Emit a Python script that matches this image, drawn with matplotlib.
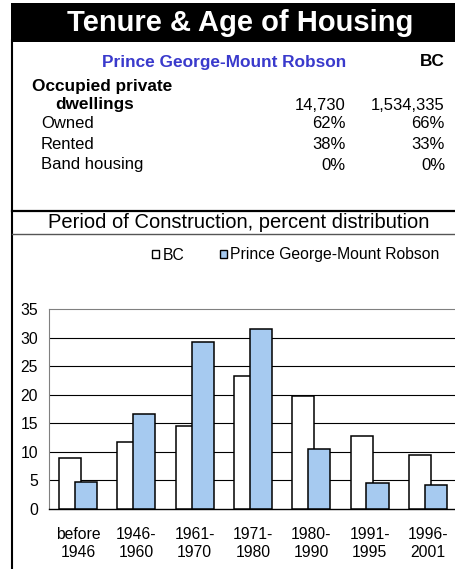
import matplotlib
matplotlib.use("Agg")
import matplotlib.pyplot as plt
from matplotlib.patches import Rectangle, Patch
from matplotlib.lines import Line2D
import numpy as np

plt.rcParams['font.family'] = ['Liberation Sans', 'DejaVu Sans']

# data
periods = ["before\n1946", "1946-\n1960", "1961-\n1970", "1971-\n1980",
           "1980-\n1990", "1991-\n1995", "1996-\n2001"]
bc_pct = [8.9, 11.7, 14.6, 23.3, 19.8, 12.8, 9.4]
pg_pct = [4.7, 16.6, 29.3, 31.5, 10.5, 4.5, 4.2]
region = "Prince George-Mount Robson"
row_labels = ["Owned", "Rented", "Band housing"]
region_vals = ["62%", "38%", "0%"]
bc_vals = ["66%", "33%", "0%"]
region_dwellings = "14,730"
bc_dwellings = "1,534,335"

W, H = 455, 569
fig = plt.figure(figsize=(W / 100, H / 100), dpi=100)


def fx(x):
    return x / W


def fy(y):
    return 1 - y / H


# title bar and frame lines
fig.add_artist(Rectangle((fx(11), fy(42)), fx(455) - fx(11), fy(3) - fy(42),
                         transform=fig.transFigure, color='black', lw=0))
fig.add_artist(Line2D([fx(12), fx(12)], [fy(40), fy(569)], color='black', lw=1.5))
fig.add_artist(Line2D([fx(12), fx(455)], [fy(211), fy(211)], color='black', lw=1.6))
fig.add_artist(Line2D([fx(12), fx(455)], [fy(234), fy(234)], color='#555555', lw=1.0))

fig.text(fx(240), fy(23), "Tenure & Age of Housing", color='white',
         fontsize=21, fontweight='bold', ha='center', va='center')

# tenure table
fs = 12
fsb = 12.4
fig.text(fx(346), fy(62), region, color='#3a3acc', fontsize=fsb,
         fontweight='bold', ha='right', va='center')
fig.text(fx(445), fy(62), "BC", color='black', fontsize=fsb,
         fontweight='bold', ha='right', va='center')
fig.text(fx(32), fy(86), "Occupied private", fontsize=fsb, fontweight='bold',
         ha='left', va='center')
fig.text(fx(55), fy(105), "dwellings", fontsize=fsb, fontweight='bold',
         ha='left', va='center')
fig.text(fx(346), fy(105), region_dwellings, fontsize=fs, ha='right', va='center')
fig.text(fx(445), fy(105), bc_dwellings, fontsize=fs, ha='right', va='center')
for i, lab in enumerate(row_labels):
    y = 124 + i * 20.5
    fig.text(fx(41), fy(y), lab, fontsize=fs, ha='left', va='center')
    fig.text(fx(346), fy(y), region_vals[i], fontsize=fs, ha='right', va='center')
    fig.text(fx(445), fy(y), bc_vals[i], fontsize=fs, ha='right', va='center')

fig.text(fx(239), fy(223), "Period of Construction, percent distribution",
         fontsize=14.5, ha='center', va='center')

# bar chart
ax = fig.add_axes([fx(49), fy(509), (457 - 49) / W, (509 - 309) / H])
x = np.arange(len(periods))
w = 0.38
ax.bar(x - 0.135, bc_pct, w, color='white', edgecolor='black', lw=1.1, zorder=3)
ax.bar(x + 0.135, pg_pct, w, color='#a6caf0', edgecolor='black', lw=1.1, zorder=4)
ax.set_xlim(-0.5, len(periods) - 0.5)
ax.set_ylim(0, 35)
ax.set_yticks(range(0, 36, 5))
ax.set_xticks(x)
ax.set_xticklabels(periods, fontsize=11.3, linespacing=1.25)
ax.tick_params(axis='both', length=0)
ax.tick_params(axis='y', pad=8, labelsize=11.3)
ax.tick_params(axis='x', pad=13)
for yv in range(5, 35, 5):
    ax.axhline(yv, color='black', lw=0.8, zorder=1)
for s in ['top', 'left', 'right']:
    ax.spines[s].set_color('#808080')
    ax.spines[s].set_linewidth(0.8)
ax.spines['right'].set_visible(False)
ax.spines['bottom'].set_color('black')
ax.spines['bottom'].set_linewidth(1.0)

handles = [Patch(facecolor='white', edgecolor='black', lw=1.0),
           Patch(facecolor='#a6caf0', edgecolor='black', lw=1.0)]
fig.legend(handles, ["BC", region], loc='center', ncol=2, frameon=False,
           bbox_to_anchor=(fx(296), fy(255)), fontsize=11.3, handlelength=0.45,
           handleheight=0.45, handletextpad=0.2, columnspacing=2.3)

fig.savefig("out.png", dpi=100)
